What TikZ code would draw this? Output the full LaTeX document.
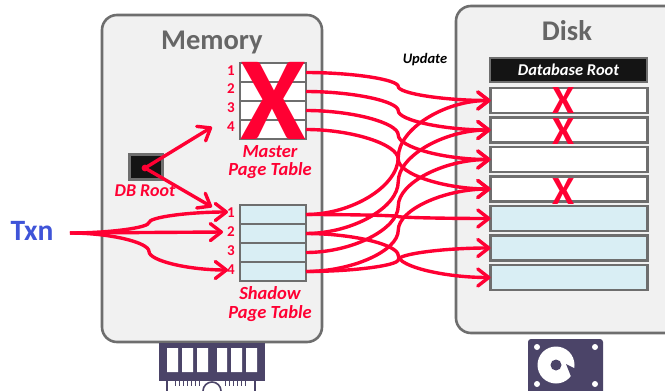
\documentclass[tikz,border=0pt]{standalone}
\usepackage{fontspec}
\setmainfont{Carlito}
\usetikzlibrary{arrows.meta,calc}
\definecolor{hot}{HTML}{FF0033}
\definecolor{edge}{HTML}{6E6E6E}
\definecolor{panel}{HTML}{F1F1F1}
\definecolor{shade}{HTML}{D9EEF4}
\definecolor{ink}{HTML}{666666}
\definecolor{plum}{HTML}{4B4468}
\definecolor{nearblack}{HTML}{141414}
\definecolor{txnblue}{HTML}{3F54D8}
\newcommand{\fs}[1]{\fontsize{#1}{#1}\selectfont}
\newcommand{\scurve}[2]{%
  \draw[conn] let \p1=(#1),\p2=(#2) in (#1)
    .. controls ({.75*\x1+.25*\x2},\y1) and ({.5*\x1+.5*\x2},{.75*\y1+.25*\y2}) .. ({.5*\x1+.5*\x2},{.5*\y1+.5*\y2})
    .. controls ({.5*\x1+.5*\x2},{.25*\y1+.75*\y2}) and ({.25*\x1+.75*\x2},\y2) .. (#2);}
\tikzset{
  panelbox/.style={draw=edge,line width=2.6pt,fill=panel,rounded corners=15pt},
  paneltitle/.style={font=\fs{28.5}\bfseries,text=ink,inner sep=0pt},
  mrow/.style={draw=edge,line width=2.4pt,fill=white,minimum width=66pt,minimum height=19pt,inner sep=0pt,outer sep=0pt},
  srow/.style={mrow,fill=shade},
  drow/.style={draw=edge,line width=2.4pt,fill=white,minimum width=157pt,minimum height=25pt,inner sep=0pt,outer sep=0pt},
  dsrow/.style={drow,fill=shade},
  numlabel/.style={font=\fs{15}\bfseries,text=hot,inner sep=0pt},
  caption/.style={font=\fs{18.5}\itshape\bfseries,text=hot,inner sep=0pt,align=center},
  conn/.style={draw=hot,line width=3.4pt,-{Straight Barb[length=11pt,width=17pt,line width=3.4pt,round]}},
  xmark/.style={font=\fs{40}\bfseries,text=hot,inner sep=0pt},
}
\begin{document}
\begin{tikzpicture}[x=1pt,y=-1pt]
\useasboundingbox (0,0) rectangle (665,391);
% panels
\draw[panelbox] (102,15) rectangle (322,342);
\draw[panelbox] (456,6) rectangle (680,333);
\node[paneltitle] (memt) at (212,42) {Memory};
\node[paneltitle] (diskt) at (567,31) {Disk};
% master table
\node[mrow] (m1) at (273,72.5) {};
\node[mrow] (m2) at (273,91.5) {};
\node[mrow] (m3) at (273,110.5) {};
\node[mrow] (m4) at (273,129.5) {};
\node[font=\fs{119}\bfseries,text=hot,inner sep=0pt] (bigx) at (273,101) {X};
\node[numlabel] (l1) at (231,71) {1};
\node[numlabel] (l2) at (231,89) {2};
\node[numlabel] (l3) at (231,108) {3};
\node[numlabel] (l4) at (231,127) {4};
\node[caption] (mcap) at (270,162) {Master\\Page Table};
% shadow table
\node[srow] (s1) at (273,214.5) {};
\node[srow] (s2) at (273,233.5) {};
\node[srow] (s3) at (273,252.5) {};
\node[srow] (s4) at (273,271.5) {};
\node[numlabel] (n1) at (231,213) {1};
\node[numlabel] (n2) at (231,232) {2};
\node[numlabel] (n3) at (231,251) {3};
\node[numlabel] (n4) at (231,270) {4};
\node[caption] (scap) at (270,304) {Shadow\\Page Table};
% db root
\node[draw=edge,line width=2.4pt,fill=nearblack,minimum width=33pt,minimum height=25pt,inner sep=0pt] (dbroot) at (146,167) {};
\node[caption,font=\fs{18}\itshape\bfseries] (dbl) at (145,191) {DB Root};
% disk
\node[draw=edge,line width=2.4pt,fill=nearblack,minimum width=157pt,minimum height=24pt,inner sep=0pt,text=white,font=\fs{16.5}\itshape\bfseries] (droot) at (568.5,70) {Database Root};
\node[drow] (d1) at (569,100.5) {};
\node[drow] (d2) at (569,130) {};
\node[drow] (d3) at (569,159.5) {};
\node[drow] (d4) at (569,189) {};
\node[dsrow] (d5) at (569,218.5) {};
\node[dsrow] (d6) at (569,248) {};
\node[dsrow] (d7) at (569,277.5) {};
\node[xmark] (x1) at (564,101) {X};
\node[xmark] (x2) at (564,131.5) {X};
\node[xmark] (x4) at (564,192) {X};
% labels
\node[font=\fs{14.5}\itshape\bfseries,text=black,inner sep=0pt] (upd) at (425,60) {Update};
\node[font=\fs{29.5}\bfseries,text=txnblue,inner sep=0pt] (txn) at (32,231) {Txn};
% connectors
\coordinate (tstart) at (70,233);
\coordinate (t1) at (228,212);
\coordinate (t2) at (223,232);
\coordinate (t4) at (228,270);
\coordinate (rootdot) at (145,168);
\coordinate (ra) at (212,127);
\coordinate (rb) at (212,207);
\fill[hot] (rootdot) circle (3.4);
\draw[conn] (rootdot) -- (ra);
\draw[conn] (rootdot) -- (rb);
\scurve{tstart}{t1}
\scurve{tstart}{t4}
\draw[conn] (tstart) -- (t2);
\scurve{m1.east}{d1.west}
\scurve{m2.east}{d2.west}
\scurve{m3.east}{d3.west}
\scurve{m4.east}{d4.west}
\scurve{s1.east}{d1.west}
\scurve{s2.east}{d2.west}
\scurve{s3.east}{d3.west}
\scurve{s4.east}{d4.west}
\scurve{s1.east}{d5.west}
\scurve{s4.east}{d6.west}
\scurve{s2.east}{d7.west}
% RAM icon
\fill[plum] (159,343) rectangle (265,381);
\fill[white] (167,348) rectangle (178,372) (182,348) rectangle (193,372) (197,348) rectangle (208,372)
  (217,348) rectangle (227,372) (231,348) rectangle (242,372) (246,348) rectangle (257,372);
\draw[plum,line width=1.2pt] (167,381) -- (167,391) (255,381) -- (255,391);
\foreach \tx in {175,179,183,187,191,195,199,225,229,233,237,241,245}
  \draw[plum,line width=1pt] (\tx,381) -- (\tx,386);
\draw[plum,line width=1.6pt] (203,391) arc[start angle=180,end angle=360,radius=9];
% disk icon
\fill[plum,rounded corners=3pt] (528,339) rectangle (603,395);
\fill[white] (556,365) circle (18.5);
\fill[plum] (556,365) circle (5.5);
\fill[plum] (566,364) -- (578,370) -- (578,385) -- (572,379) -- cycle;
\fill[white] (537,347) circle (3) (595,347) circle (3) (537,384) circle (3) (595,384) circle (3);
\end{tikzpicture}
\end{document}
